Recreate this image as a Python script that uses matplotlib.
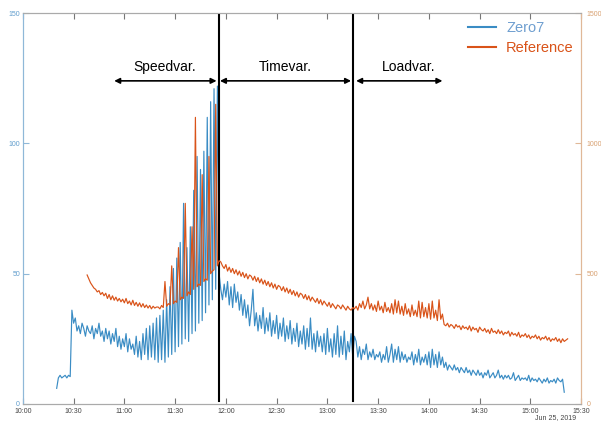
import matplotlib as mpl
mpl.use('Agg')
import matplotlib.pyplot as plt
import matplotlib.dates as mdates
import pandas as pd

plt.rcParams['font.family'] = ['Liberation Sans', 'DejaVu Sans']

day = '2019-06-25'

# Zero7 (left axis), one reading per minute starting 10:20
zero7_start = '10:20'
zero7 = (
    [6, 10, 11, 10, 10.5, 11, 10, 11, 10.5, 36]
    + [31, 33, 28, 30, 27, 31, 29, 26, 30, 28]
    + [27, 30, 25, 29, 27, 31, 26, 28, 24, 29]
    + [25, 28, 23, 27, 24, 29, 22, 26, 21, 25]
    + [22, 27, 20, 25, 21, 23, 19, 26, 18, 24]
    + [17, 27, 19, 29, 17, 30, 18, 31, 17, 33]
    # speed variation (11:20 - 11:56)
    + [16, 34, 17, 36, 16, 40, 18, 45, 19, 52]
    + [20, 56, 22, 62, 23, 77, 25, 60, 24, 68]
    + [27, 82, 28, 95, 31, 90, 32, 97, 35, 110]
    + [38, 116, 40, 121, 44, 122, 50]
    # time variation
    + [44, 40, 46, 41, 47, 38, 45, 37, 46, 39]
    + [43, 36, 42, 34, 40, 33, 38, 30, 36, 44]
    + [30, 35, 28, 34, 29, 37, 27, 33, 28, 35]
    + [26, 32, 27, 34, 25, 31, 26, 33, 24, 30]
    + [25, 32, 23, 29, 24, 31, 22, 28, 23, 30]
    + [21, 29, 22, 33, 21, 27, 20, 28, 22, 26]
    + [20, 27, 19, 29, 20, 25, 18, 27, 19, 30]
    + [18, 26, 19, 28, 17, 24, 20, 27, 18, 26]
    # load variation and after
    + [24, 18, 22, 17, 21, 19, 23, 17, 20, 18]
    + [21, 17, 19, 18, 20, 16, 19, 17, 22, 16]
    + [19, 23, 16, 21, 17, 22, 16, 20, 17, 19]
    + [16, 18, 17, 20, 15, 19, 16, 21, 15, 18]
    + [16, 19, 15, 20, 14, 21, 15, 19, 14, 20]
    + [15, 18, 14, 16, 13, 15, 14, 13, 15, 13]
    + [14, 12, 14, 13, 12, 14, 12, 13, 11, 13]
    + [12, 11, 13, 11, 12, 10, 12, 11, 13, 10]
    + [11, 12, 10, 11, 13, 10, 11, 9.5, 11, 10]
    + [11, 9.5, 10, 12, 9, 10, 11, 9, 10, 9.5]
    + [10, 9, 11, 8.5, 10, 9, 9.5, 8.5, 10, 9]
    + [8, 9.5, 8.5, 10, 8, 9, 8.5, 9.5, 8, 10]
    + [9, 8.5, 9.5, 4.5]
)

# Reference (right axis), one reading per minute starting 10:38
ref_start = '10:38'
reference = (
    [495, 480, 465, 455, 445, 440, 430, 435, 420, 428]
    + [415, 425, 405, 420, 400, 415, 398, 410, 395, 405]
    + [392, 402, 388, 405, 385, 395, 380, 398, 378, 390]
    + [375, 388, 372, 385, 370, 380, 368, 378, 365, 375, 368, 372]
    # speed variation
    + [372, 365, 378, 370, 470, 375, 385, 380, 530, 385]
    + [395, 390, 600, 400, 410, 405, 770, 415, 430, 420]
    + [680, 440, 1100, 450, 460, 455, 880, 470, 480, 475]
    + [950, 500, 510, 515, 1150, 530, 550]
    # time variation
    + [545, 530, 520, 535, 510, 525, 505, 520, 500, 515]
    + [495, 510, 490, 505, 485, 500, 480, 495, 490, 475]
    + [490, 470, 485, 465, 480, 460, 475, 455, 470, 450]
    + [465, 445, 460, 440, 455, 450, 435, 450, 430, 445]
    + [425, 440, 420, 435, 415, 430, 410, 425, 420, 405]
    + [420, 400, 415, 395, 410, 400, 390, 405, 385, 400]
    + [380, 395, 385, 375, 390, 370, 385, 375, 365, 380]
    + [375, 365, 380, 370, 360, 375, 365, 360, 370, 365]
    # load variation and after
    + [375, 360, 385, 370, 395, 365, 380, 410, 365, 385]
    + [360, 380, 355, 395, 360, 375, 350, 390, 355, 370]
    + [350, 385, 345, 400, 350, 395, 345, 375, 340, 385]
    + [345, 365, 335, 380, 340, 360, 335, 395, 330, 390]
    + [335, 370, 330, 385, 325, 395, 330, 360, 320, 400]
    + [325, 345, 305, 300]
    + [310, 295, 305, 300, 290, 305, 295, 300, 285, 300]
    + [290, 295, 285, 300, 280, 295, 285, 290, 275, 295]
    + [285, 280, 290, 275, 285, 270, 290, 275, 280, 270]
    + [285, 270, 280, 265, 275, 270, 280, 260, 275, 265]
    + [270, 260, 275, 255, 265, 260, 270, 255, 265, 250]
    + [260, 255, 265, 250, 260, 245, 255, 250, 260, 245]
    + [255, 240, 250, 245, 255, 240, 250, 235, 250, 240]
    + [245, 250]
)

phase_names = ['Speedvar.', 'Timevar.', 'Loadvar.']
phase_edges = ['11:56', '13:15']

blue = '#3a8cc4'
orange = '#d95319'


def ts(hhmm):
    return mdates.date2num(pd.Timestamp(f'{day} {hhmm}'))


t_zero7 = pd.date_range(f'{day} {zero7_start}', periods=len(zero7), freq='1min')
t_ref = pd.date_range(f'{day} {ref_start}', periods=len(reference), freq='1min')

fig = plt.figure(figsize=(6.01, 4.23), dpi=100)
ax = fig.add_axes([0.038, 0.045, 0.929, 0.924])
ax2 = ax.twinx()

l1, = ax.plot(t_zero7.values, zero7, color=blue, lw=0.85, label='Zero7')
l2, = ax2.plot(t_ref.values, reference, color=orange, lw=0.85, label='Reference')

ax.set_xlim(ts('10:00'), ts('15:30'))
ax.set_ylim(0, 150)
ax2.set_ylim(0, 1500)
ax.set_yticks([0, 50, 100, 150])
ax2.set_yticks([0, 500, 1000, 1500])
ax.xaxis.set_major_locator(mdates.MinuteLocator(byminute=[0, 30]))
ax.xaxis.set_major_formatter(mdates.DateFormatter('%H:%M'))

ax.tick_params(axis='x', direction='in', length=4, labelsize=5, colors='#777777',
               labelcolor='#444444', top=True, pad=3)
ax.tick_params(axis='y', direction='in', length=4, labelsize=5, colors='#8fb8d8',
               labelcolor='#5f9ccc', pad=2)
ax2.tick_params(axis='y', direction='in', length=4, labelsize=5, colors='#e0b898',
                labelcolor='#d8a070', pad=4)
for a in (ax, ax2):
    a.spines['top'].set_color('#aaaaaa')
    a.spines['bottom'].set_color('#aaaaaa')
    a.spines['left'].set_color('#8fb8d8')
    a.spines['right'].set_color('#e0b898')

ax.text(0.955, -0.036, 'Jun 25, 2019', transform=ax.transAxes, ha='center', va='center',
        fontsize=5, color='#444444')

# phase boundaries
for e in phase_edges:
    ax.axvline(ts(e), ymin=0.008, ymax=0.995, color='black', lw=1.5, zorder=5)

# phase arrows and labels
arrows = [('10:54', '11:54.5', '11:24'), ('11:56.5', '13:14', '12:35'), ('13:17', '14:08', '13:48')]
for name, (a0, a1, mid) in zip(phase_names, arrows):
    ax.annotate('', xy=(ts(a0), 124), xytext=(ts(a1), 124),
                arrowprops=dict(arrowstyle='<|-|>', color='black', lw=1.2,
                                mutation_scale=8, shrinkA=0, shrinkB=0), zorder=6)
    ax.text(ts(mid), 129.5, name, ha='center', va='center', fontsize=10, color='black')

leg = ax2.legend(handles=[l1, l2], loc='upper right', bbox_to_anchor=(0.997, 0.995),
                 frameon=False, fontsize=10.5, handlelength=1.9, handletextpad=0.7,
                 borderaxespad=0, labelspacing=0.4)
for h in leg.get_lines():
    h.set_linewidth(1.5)
leg.get_texts()[0].set_color('#6f9fd0')
leg.get_texts()[1].set_color(orange)

fig.savefig('out.png', dpi=100)
